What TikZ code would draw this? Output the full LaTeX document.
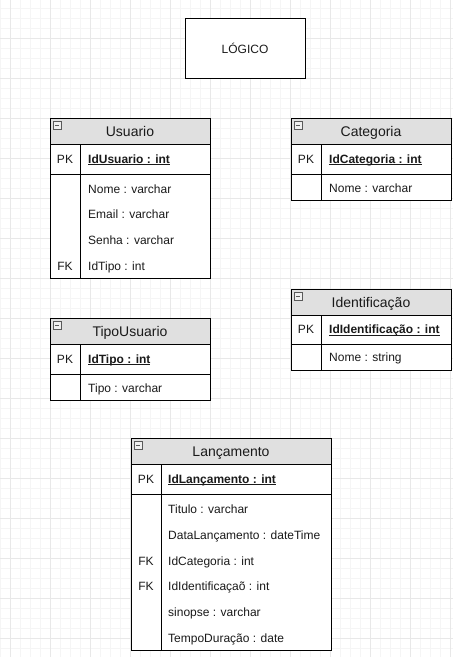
\documentclass[tikz,border=0pt]{standalone}
\usepackage{fontspec}
\setmainfont{Liberation Sans}
\definecolor{gridminor}{HTML}{F5F5F5}
\definecolor{gridmajor}{HTML}{E8E8E8}
\definecolor{hdrgray}{HTML}{E0E0E0}
\definecolor{txt}{HTML}{1A1A1A}
\definecolor{icongray}{HTML}{5A5A5A}
\begin{document}
\begin{tikzpicture}[x=1pt,y=-1pt,
  minorline/.style={draw=gridminor,line width=0.8pt},
  majorline/.style={draw=gridmajor,line width=0.8pt},
  tblbox/.style={draw=black,line width=1pt,fill=white,inner sep=0pt,outer sep=0pt,anchor=north west},
  hdrbox/.style={draw=black,line width=1pt,fill=hdrgray,inner sep=0pt,outer sep=0pt,anchor=north west,minimum height=26pt},
  hdrtext/.style={inner sep=0pt,font=\fontsize{14}{16}\selectfont,text=txt,text height=10pt,text depth=0pt},
  fieldtext/.style={inner sep=0pt,anchor=west,font=\fontsize{12}{14}\selectfont,text=txt,text height=8.6pt,text depth=0pt},
  keytext/.style={inner sep=0pt,font=\fontsize{12}{14}\selectfont,text=txt,text height=8.6pt,text depth=0pt},
  sepline/.style={draw=black,line width=1pt},
  iconbox/.style={draw=icongray,fill=hdrgray!50,line width=0.7pt,minimum size=8pt,inner sep=0pt,
    path picture={\draw[icongray,line width=0.9pt] ([xshift=1.8pt]path picture bounding box.west) -- ([xshift=-1.8pt]path picture bounding box.east);}},
  plainbox/.style={draw=black,line width=1pt,fill=white,inner sep=0pt,minimum width=120pt,minimum height=60pt,font=\fontsize{12}{14}\selectfont,text=txt}
]
\newcommand{\pkul}[1]{\textbf{\setbox0\hbox{#1}\rlap{\rule[-1.6pt]{\wd0}{0.6pt}}\box0}}
\useasboundingbox (0,0) rectangle (453,657);
\fill[white] (0,0) rectangle (453,657);
% grid
\foreach \gx in {0,10,...,450} \draw[minorline] (\gx,0) -- (\gx,657);
\foreach \gy in {8,18,...,648} \draw[minorline] (0,\gy) -- (453,\gy);
\foreach \gx in {10,50,...,450} \draw[majorline] (\gx,0) -- (\gx,657);
\foreach \gy in {38,78,...,638} \draw[majorline] (0,\gy) -- (453,\gy);

% LOGICO
\node[plainbox] (logico) at (245,48) {LÓGICO};

% ---------- Usuario ----------
\node[tblbox,minimum width=160pt,minimum height=160pt] (usuario) at (50,118) {};
\node[hdrbox,minimum width=160pt] (usuarioH) at (50,118) {};
\node[hdrtext] (usuarioT) at (130,131) {Usuario};
\node[iconbox] (usuarioI) at (57,125) {};
\draw[sepline] (50,174) -- (210,174);
\draw[sepline] (80,144) -- (80,278);
\node[keytext] (usuarioPK) at (65,159) {PK};
\node[fieldtext] (usuarioF0) at (88,159) {\pkul{IdUsuario : int}};
\node[fieldtext] (usuarioF1) at (88,189) {Nome : varchar};
\node[fieldtext] (usuarioF2) at (88,214) {Email : varchar};
\node[fieldtext] (usuarioF3) at (88,240) {Senha : varchar};
\node[keytext] (usuarioFK) at (65,266) {FK};
\node[fieldtext] (usuarioF4) at (88,266) {IdTipo : int};

% ---------- Categoria ----------
\node[tblbox,minimum width=160pt,minimum height=82pt] (categoria) at (291,118) {};
\node[hdrbox,minimum width=160pt] (categoriaH) at (291,118) {};
\node[hdrtext] (categoriaT) at (371,131) {Categoria};
\node[iconbox] (categoriaI) at (298,125) {};
\draw[sepline] (291,174) -- (451,174);
\draw[sepline] (321,144) -- (321,200);
\node[keytext] (categoriaPK) at (306,159) {PK};
\node[fieldtext] (categoriaF0) at (329,159) {\pkul{IdCategoria : int}};
\node[fieldtext] (categoriaF1) at (329,188) {Nome : varchar};

% ---------- Identificacao ----------
\node[tblbox,minimum width=160pt,minimum height=81pt] (ident) at (291,289) {};
\node[hdrbox,minimum width=160pt] (identH) at (291,289) {};
\node[hdrtext] (identT) at (371,302) {Identificação};
\node[iconbox] (identI) at (298,296) {};
\draw[sepline] (291,344) -- (451,344);
\draw[sepline] (321,315) -- (321,370);
\node[keytext] (identPK) at (306,329.5) {PK};
\node[fieldtext] (identF0) at (329,329.5) {\pkul{IdIdentificação : int}};
\node[fieldtext] (identF1) at (329,357.5) {Nome : string};

% ---------- TipoUsuario ----------
\node[tblbox,minimum width=160pt,minimum height=82pt] (tipo) at (50,318) {};
\node[hdrbox,minimum width=160pt] (tipoH) at (50,318) {};
\node[hdrtext] (tipoT) at (130,331.5) {TipoUsuario};
\node[iconbox] (tipoI) at (57,325) {};
\draw[sepline] (50,374) -- (210,374);
\draw[sepline] (80,344) -- (80,400);
\node[keytext] (tipoPK) at (65,359) {PK};
\node[fieldtext] (tipoF0) at (88,359) {\pkul{IdTipo : int}};
\node[fieldtext] (tipoF1) at (88,388) {Tipo : varchar};

% ---------- Lancamento ----------
\node[tblbox,minimum width=200pt,minimum height=212pt] (lanc) at (131,438) {};
\node[hdrbox,minimum width=200pt] (lancH) at (131,438) {};
\node[hdrtext] (lancT) at (231,451.5) {Lançamento};
\node[iconbox] (lancI) at (138,445) {};
\draw[sepline] (131,494) -- (331,494);
\draw[sepline] (161,464) -- (161,650);
\node[keytext] (lancPK) at (146,479) {PK};
\node[fieldtext] (lancF0) at (168,479) {\pkul{IdLançamento : int}};
\node[fieldtext] (lancF1) at (168,509) {Titulo : varchar};
\node[fieldtext] (lancF2) at (168,535) {DataLançamento : dateTime};
\node[keytext] (lancFK1) at (146,561) {FK};
\node[fieldtext] (lancF3) at (168,561) {IdCategoria : int};
\node[keytext] (lancFK2) at (146,586) {FK};
\node[fieldtext] (lancF4) at (168,586) {IdIdentificaçaõ : int};
\node[fieldtext] (lancF5) at (168,612) {sinopse : varchar};
\node[fieldtext] (lancF6) at (168,638) {TempoDuração : date};
\end{tikzpicture}
\end{document}
